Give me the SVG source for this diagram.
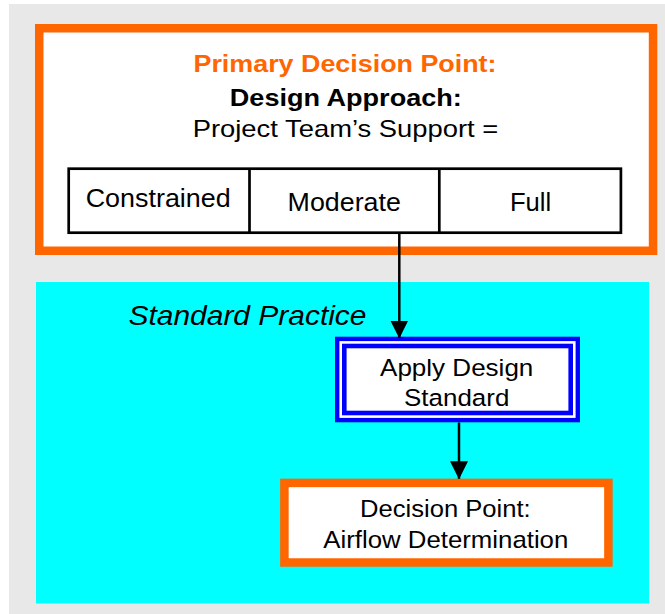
<svg xmlns="http://www.w3.org/2000/svg" width="665" height="614" viewBox="0 0 665 614">
  <defs>
    <style>
      text { font-family: "Liberation Sans", Arial, sans-serif; fill: #000; text-anchor: middle; }
      .orange { fill: #FFFFFF; stroke: #FF6600; stroke-width: 8.5; }
      .tbl { fill: #FFFFFF; stroke: #000; stroke-width: 2.7; }
      .blue { fill: #FFFFFF; stroke: #0000FF; stroke-width: 4.4; }
      .conn { stroke: #000; stroke-width: 2.5; fill: none; }
      .hl { fill: #FF6600; }
    </style>
    <marker id="arrow" markerUnits="userSpaceOnUse" markerWidth="18" markerHeight="18" refX="17.5" refY="9" orient="auto">
      <path d="M0,0 L18,9 L0,18 Z" fill="#000"/>
    </marker>
  </defs>

  <rect id="page" x="9" y="4" width="656" height="610" fill="#E8E8E8"/>

  <g id="standard-practice-region">
    <rect x="36" y="282" width="613" height="321.5" fill="#00FFFF"/>
    <text x="247.5" y="324.5" font-size="28" font-style="italic" textLength="238" lengthAdjust="spacingAndGlyphs">Standard Practice</text>
  </g>

  <g id="primary-decision">
    <rect x="39.25" y="28.25" width="613.8" height="222.5" class="orange"/>
    <text class="hl" x="345" y="72" font-size="24.3" font-weight="bold" textLength="303" lengthAdjust="spacingAndGlyphs">Primary Decision Point:</text>
    <text x="345.8" y="106" font-size="24" font-weight="bold" textLength="232" lengthAdjust="spacingAndGlyphs">Design Approach:</text>
    <text x="345.5" y="137" font-size="24" textLength="305.6" lengthAdjust="spacingAndGlyphs">Project Team’s Support =</text>
  </g>

  <g id="options-table">
    <rect x="68.7" y="168.7" width="552.2" height="64" class="tbl"/>
    <line x1="249.5" y1="168.7" x2="249.5" y2="232.7" class="tbl"/>
    <line x1="439.3" y1="168.7" x2="439.3" y2="232.7" class="tbl"/>
    <text x="158.2" y="207" font-size="25" textLength="145" lengthAdjust="spacingAndGlyphs">Constrained</text>
    <text x="344.2" y="211" font-size="25" textLength="113.3" lengthAdjust="spacingAndGlyphs">Moderate</text>
    <text x="530.6" y="211" font-size="25" textLength="41.3" lengthAdjust="spacingAndGlyphs">Full</text>
  </g>

  <g id="apply-design-standard">
    <rect x="337.2" y="338.9" width="240.6" height="81.2" class="blue"/>
    <rect x="344.3" y="346" width="226.4" height="67" class="blue" style="stroke-width:4.6"/>
    <text x="456.7" y="375.5" font-size="24.3" textLength="153.3" lengthAdjust="spacingAndGlyphs">Apply Design</text>
    <text x="456.7" y="406" font-size="24.3" textLength="105.3" lengthAdjust="spacingAndGlyphs">Standard</text>
  </g>

  <g id="airflow-decision">
    <rect x="284.4" y="482.9" width="324" height="79.6" class="orange"/>
    <text x="445.4" y="517" font-size="24.8" textLength="170.7" lengthAdjust="spacingAndGlyphs">Decision Point:</text>
    <text x="445.8" y="548" font-size="24.8" textLength="245" lengthAdjust="spacingAndGlyphs">Airflow Determination</text>
  </g>

  <g id="connectors">
    <line x1="399.3" y1="233" x2="399.3" y2="338" class="conn" marker-end="url(#arrow)"/>
    <line x1="459" y1="422.5" x2="459" y2="478.7" class="conn" marker-end="url(#arrow)"/>
  </g>
</svg>
